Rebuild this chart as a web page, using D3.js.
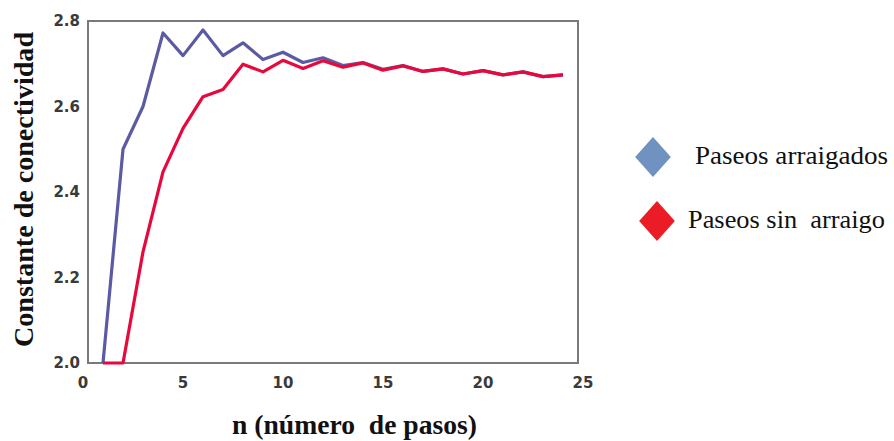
<!DOCTYPE html>
<html>
<head>
<meta charset="utf-8">
<script src="https://cdn.jsdelivr.net/npm/d3@7"></script>
<style>
  body { margin: 0; background: #fff; }
  svg { display: block; }
</style>
</head>
<body>
<svg id="chart" width="894" height="441"></svg>
<script>
// values
const steps = d3.range(1, 25);
const rooted = [2.00, 2.50, 2.60, 2.772, 2.719, 2.779, 2.719, 2.749, 2.710, 2.727, 2.703, 2.714,
  2.696, 2.703, 2.687, 2.696, 2.682, 2.688, 2.676, 2.684, 2.674, 2.681, 2.670, 2.674];
const unrooted = [2.00, 2.00, 2.26, 2.447, 2.549, 2.623, 2.640, 2.699, 2.681, 2.708, 2.689, 2.707,
  2.692, 2.702, 2.685, 2.695, 2.682, 2.688, 2.676, 2.684, 2.674, 2.681, 2.670, 2.674];
const xTicks = [0, 5, 10, 15, 20, 25];
const yTicks = [2.0, 2.2, 2.4, 2.6, 2.8];
const seriesNames = ["Paseos arraigados", "Paseos sin  arraigo"];

const svg = d3.select("#chart");
const box = {left: 88, right: 578, top: 21, bottom: 363};
const serif = "'Liberation Serif', 'Times New Roman', serif";

const x = d3.scaleLinear().domain([0, 25]).range([box.left - 5, box.right + 5]);
const y = d3.scaleLinear().domain([2.0, 2.8]).range([box.bottom, box.top]);

// frame
svg.append("rect")
  .attr("x", box.left).attr("y", box.top)
  .attr("width", box.right - box.left).attr("height", box.bottom - box.top)
  .attr("fill", "none")
  .attr("stroke", "#7a7a7a")
  .attr("stroke-width", 2);

// tick labels
svg.append("g").selectAll("text")
  .data(yTicks).enter().append("text")
  .attr("x", 80)
  .attr("y", d => y(d))
  .attr("dy", "0.35em")
  .attr("text-anchor", "end")
  .attr("font-family", "DejaVu Sans")
  .attr("font-weight", "bold")
  .attr("font-size", 15)
  .attr("fill", "#3a3a3a")
  .text(d => d.toFixed(1));

svg.append("g").selectAll("text")
  .data(xTicks).enter().append("text")
  .attr("x", d => x(d))
  .attr("y", 383)
  .attr("dy", "0.35em")
  .attr("text-anchor", "middle")
  .attr("font-family", "DejaVu Sans")
  .attr("font-weight", "bold")
  .attr("font-size", 15)
  .attr("fill", "#3a3a3a")
  .text(d => d);

// axis titles
svg.append("text")
  .attr("x", 232).attr("y", 434)
  .attr("font-family", serif)
  .attr("font-weight", "bold")
  .attr("font-size", 27)
  .attr("fill", "#111")
  .attr("textLength", 245)
  .attr("lengthAdjust", "spacingAndGlyphs")
  .style("white-space", "pre")
  .text("n (número  de pasos)");

svg.append("text")
  .attr("transform", "translate(33,347) rotate(-90)")
  .attr("font-family", serif)
  .attr("font-weight", "bold")
  .attr("font-size", 27)
  .attr("fill", "#111")
  .attr("textLength", 315)
  .attr("lengthAdjust", "spacingAndGlyphs")
  .text("Constante de conectividad");

// lines
const line = d3.line()
  .x((d, i) => x(steps[i]))
  .y(d => y(d));

svg.append("path")
  .datum(rooted)
  .attr("d", line)
  .attr("fill", "none")
  .attr("stroke", "#5b5ba3")
  .attr("stroke-width", 3.2)
  .attr("stroke-linejoin", "round");

svg.append("path")
  .datum(unrooted)
  .attr("d", line)
  .attr("fill", "none")
  .attr("stroke", "#e8083c")
  .attr("stroke-width", 3.2)
  .attr("stroke-linejoin", "round");

// legend
const legend = svg.append("g");
const legendColors = ["#7092c0", "#ec1c27"];
const legendRows = [
  {cx: 653, cy: 157, tx: 695, ty: 164, w: 193},
  {cx: 657, cy: 221, tx: 688, ty: 228, w: 197}
];
const diamond = d3.symbol().type(d3.symbolDiamond2).size(900);

legend.selectAll("path")
  .data(seriesNames).enter().append("path")
  .attr("d", diamond)
  .attr("transform", (d, i) => "translate(" + legendRows[i].cx + "," + legendRows[i].cy + ") scale(0.95,1.07)")
  .attr("fill", (d, i) => legendColors[i]);

legend.selectAll("text")
  .data(seriesNames).enter().append("text")
  .attr("x", (d, i) => legendRows[i].tx)
  .attr("y", (d, i) => legendRows[i].ty)
  .attr("font-family", serif)
  .attr("font-size", 26)
  .attr("fill", "#111")
  .attr("textLength", (d, i) => legendRows[i].w)
  .attr("lengthAdjust", "spacingAndGlyphs")
  .style("white-space", "pre")
  .text(d => d);
</script>
</body>
</html>
